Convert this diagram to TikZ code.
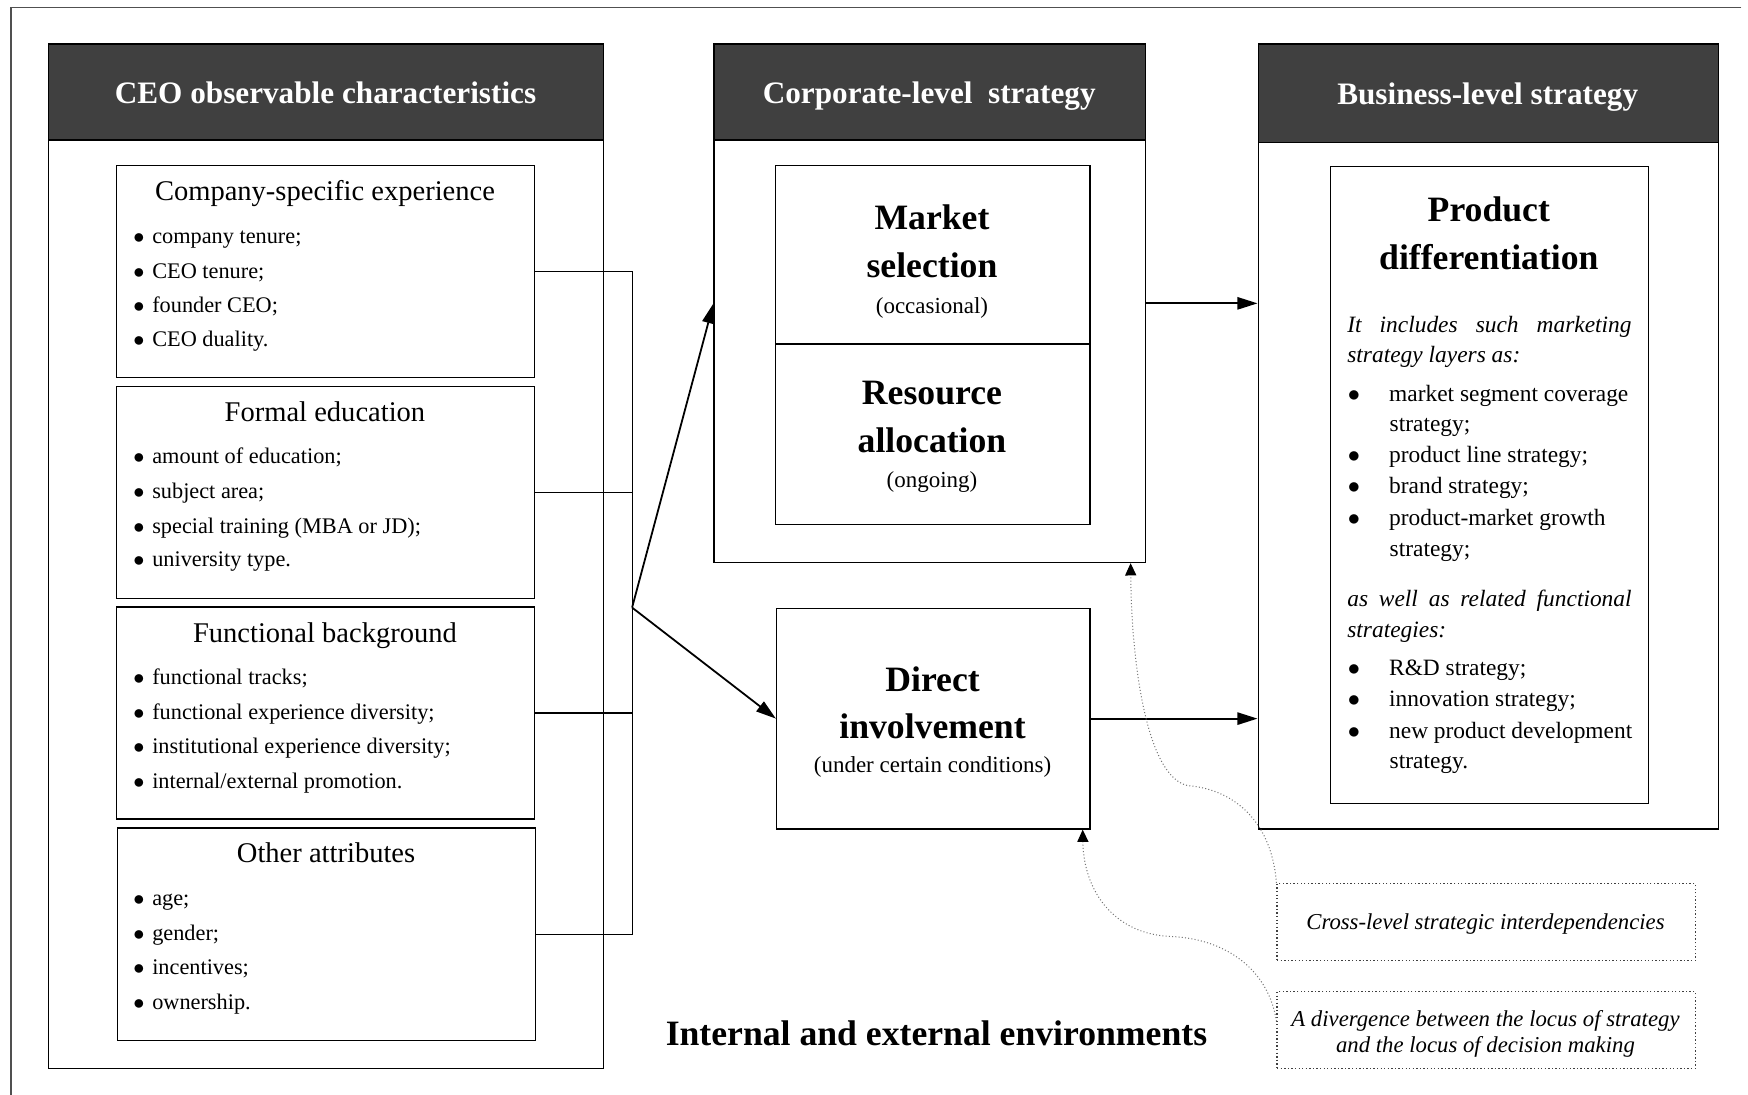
\documentclass[tikz,border=0pt]{standalone}
\usepackage{fontspec}
\setmainfont{Liberation Serif}
\usetikzlibrary{arrows.meta,calc}

\definecolor{hdgray}{RGB}{64,64,64}
\definecolor{framegray}{RGB}{80,80,80}

\tikzset{every picture/.style={line width=0.6pt}}
\tikzset{
  panel/.style={draw, fill=white, anchor=north west, inner sep=0pt},
  header/.style={draw, fill=hdgray, anchor=north west, inner sep=0pt},
  note/.style={draw=black!75, densely dotted, fill=white, anchor=north west, inner sep=0pt},
  hdtext/.style={anchor=base, inner sep=0pt, text=white, font=\fontsize{14}{16}\selectfont\bfseries},
  title/.style={anchor=base, inner sep=0pt, font=\fontsize{12.8}{15}\selectfont},
  item/.style={anchor=base west, inner sep=0pt, font=\fontsize{10}{12}\selectfont},
  big/.style={anchor=base, inner sep=0pt, font=\fontsize{16}{19}\selectfont\bfseries},
  paren/.style={anchor=base, inner sep=0pt, font=\fontsize{10.3}{12}\selectfont},
  bizitem/.style={anchor=base west, inner sep=0pt, font=\fontsize{10.5}{12}\selectfont},
  bizit/.style={anchor=base west, inner sep=0pt, font=\fontsize{10.5}{12}\selectfont\itshape},
  notetext/.style={anchor=base, inner sep=0pt, font=\fontsize{10.2}{12}\selectfont\itshape},
  link/.style={line width=0.5pt},
  arr/.style={line width=0.8pt, -{Triangle[length=9pt,width=5.5pt]}},
  cross/.style={black!55, line width=0.45pt, densely dotted, -{Triangle[length=5.5pt,width=5pt,color=black]}}
}

\newcommand{\blt}{$\bullet$\hspace{3.5pt}}
\newcommand{\bizblt}{\makebox[18.5pt][l]{$\bullet$}}

\begin{document}
\begin{tikzpicture}[x=0.5pt,y=0.5pt,yscale=-1,xscale=1]
\fill [white] (0,0) rectangle (1568,982);
\useasboundingbox (0,0) rectangle (1568,982);

%Straight Lines - frame
\draw [framegray] (1562,7) -- (10,7) -- (10,982) ;

%Shape: Rectangle - CEO panel
\node [panel, minimum width=249pt, minimum height=459.5pt] (ceo) at (43,39) {};
\node [header, minimum width=249pt, minimum height=43pt] (ceohd) at (43,39) {};
% Text Node
\node [hdtext] (ceoT) at (292,93) {CEO observable characteristics};

%Shape: Rectangle - corporate panel
\node [panel, minimum width=193.5pt, minimum height=232.5pt] (corp) at (640,39) {};
\node [header, minimum width=193.5pt, minimum height=43pt] (corphd) at (640,39) {};
% Text Node
\node [hdtext] (corpT) at (833.5,93) {Corporate-level\ \ strategy};

%Shape: Rectangle - business panel
\node [panel, minimum width=206.5pt, minimum height=352pt] (biz) at (1128,39) {};
\node [header, minimum width=206.5pt, minimum height=44pt] (bizhd) at (1128,39) {};
% Text Node
\node [hdtext] (bizT) at (1334.5,94) {Business-level strategy};

%Shape: Rectangle - characteristic boxes
\node [panel, minimum width=187.5pt, minimum height=95pt] (comp) at (104,148) {};
\node [panel, minimum width=187.5pt, minimum height=95pt] (edu) at (104,346) {};
\node [panel, minimum width=187.5pt, minimum height=95pt] (func) at (104,544) {};
\node [panel, minimum width=187.5pt, minimum height=95.5pt] (other) at (105,742) {};

% Text Node - company-specific experience
\node [title] (compT) at (291.5,180) {Company-specific experience};
\node [item] (comp1) at (119,218.5) {\blt company tenure;};
\node [item] (comp2) at (119,249.5) {\blt CEO tenure;};
\node [item] (comp3) at (119,280.5) {\blt founder CEO;};
\node [item] (comp4) at (119,310.5) {\blt CEO duality.};

% Text Node - formal education
\node [title] (eduT) at (291.5,378) {Formal education};
\node [item] (edu1) at (119,416) {\blt amount of education;};
\node [item] (edu2) at (119,447.5) {\blt subject area;};
\node [item] (edu3) at (119,478.5) {\blt special training (MBA or JD);};
\node [item] (edu4) at (119,508.5) {\blt university type.};

% Text Node - functional background
\node [title] (funcT) at (291.5,576) {Functional background};
\node [item] (func1) at (119,614) {\blt functional tracks;};
\node [item] (func2) at (119,645) {\blt functional experience diversity;};
\node [item] (func3) at (119,676) {\blt institutional experience diversity;};
\node [item] (func4) at (119,707) {\blt internal/external promotion.};

% Text Node - other attributes
\node [title] (othT) at (292.5,774) {Other attributes};
\node [item] (oth1) at (119,812.5) {\blt age;};
\node [item] (oth2) at (119,844) {\blt gender;};
\node [item] (oth3) at (119,874.5) {\blt incentives;};
\node [item] (oth4) at (119,905.5) {\blt ownership.};

%Shape: Rectangle - market selection / resource allocation
\node [panel, minimum width=141pt, minimum height=80pt] (mkt) at (695,148) {};
\node [panel, minimum width=141pt, minimum height=81pt] (res) at (695,308) {};
% Text Node
\node [big] (mktA) at (836,206) {Market};
\node [big] (mktB) at (836,248.5) {selection};
\node [paren] (mktC) at (836,281) {(occasional)};
\node [big] (resA) at (836,363) {Resource};
\node [big] (resB) at (836,405.5) {allocation};
\node [paren] (resC) at (836,437) {(ongoing)};

%Shape: Rectangle - direct involvement
\node [panel, minimum width=140.5pt, minimum height=99pt] (direct) at (696,545) {};
% Text Node
\node [big] (dirA) at (836.5,620) {Direct};
\node [big] (dirB) at (836.5,662.5) {involvement};
\node [paren] (dirC) at (836.5,693) {(under certain conditions)};

%Shape: Rectangle - product differentiation
\node [panel, minimum width=142.5pt, minimum height=285.5pt] (prod) at (1193,149) {};
% Text Node
\node [big] (prodA) at (1335.5,199) {Product};
\node [big] (prodB) at (1335.5,242) {differentiation};
\node [bizit] (it1) at (1208,298) {\makebox[127.5pt][s]{It includes such marketing}};
\node [bizit] (it2) at (1208,325) {strategy layers as:};
\node [bizitem] (lay1) at (1208.5,360) {\bizblt market segment coverage};
\node [bizitem] (lay1b) at (1246,387) {strategy;};
\node [bizitem] (lay2) at (1208.5,415) {\bizblt product line strategy;};
\node [bizitem] (lay3) at (1208.5,443) {\bizblt brand strategy;};
\node [bizitem] (lay4) at (1208.5,471) {\bizblt product-market growth};
\node [bizitem] (lay4b) at (1246,499) {strategy;};
\node [bizit] (it3) at (1208,544) {\makebox[127.5pt][s]{as well as related functional}};
\node [bizit] (it4) at (1208,572) {strategies:};
\node [bizitem] (fun1) at (1208.5,606) {\bizblt R\&D strategy;};
\node [bizitem] (fun2) at (1208.5,634) {\bizblt innovation strategy;};
\node [bizitem] (fun3) at (1208.5,662) {\bizblt new product development};
\node [bizitem] (fun3b) at (1246,689) {strategy.};

%Shape: Rectangle - dotted notes
\node [note, minimum width=187.5pt, minimum height=34.5pt] (xlev) at (1145,792) {};
\node [note, minimum width=187.5pt, minimum height=34.5pt] (divg) at (1145,889) {};
% Text Node
\node [notetext] (xlevT) at (1332.5,834) {Cross-level strategic interdependencies};
\node [notetext] (divgA) at (1332.5,921) {A divergence between the locus of strategy};
\node [notetext] (divgB) at (1332.5,944) {and the locus of decision making};

% Text Node
\node [anchor=base, inner sep=0pt, font=\fontsize{16}{19}\selectfont\bfseries] (env) at (840,938) {Internal and external environments};

%Straight Lines - characteristics into the junction
\coordinate (jn) at (567,545);
\draw [link] (comp.east) -| (jn) ;
\draw [link] (other.east) -| (jn) ;
\draw [link] (edu.east) -- (edu.east -| jn) ;
\draw [link] (func.east) -- (func.east -| jn) ;
\draw [arr] (jn) -- (corp.west) ;
\draw [arr] (jn) -- (direct.west) ;

%Straight Lines - into business-level strategy
\draw [arr] (corp.east) -- (corp.east -| biz.west) ;
\draw [arr] (direct.east) -- (direct.east -| biz.west) ;

%Curve Lines
\draw [cross] (xlev.north west) .. controls (1140,730) and (1100,708) .. (1068,705) .. controls (1030,702) and (1015,600) .. ($(corp.south east)+(-14,0)$) ;
\draw [cross] ($(divg.west)+(0,-8)$) .. controls (1138,870) and (1100,842) .. (1050,840) .. controls (1000,838) and (972,800) .. ($(direct.south east)+(-7,0)$) ;

\end{tikzpicture}
\end{document}
